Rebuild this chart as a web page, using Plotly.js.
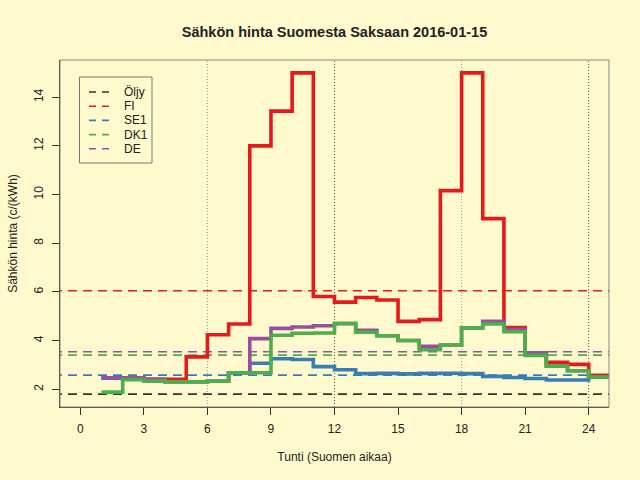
<!DOCTYPE html>
<html>
<head>
<meta charset="utf-8">
<script src="https://cdn.plot.ly/plotly-3.0.1.min.js"></script>
<style>html,body{margin:0;padding:0;background:#FFFACD;}#chart{width:640px;height:480px;}</style>
</head>
<body>
<div id="chart"></div>
<script>
// Hours 1..24 (Finnish time), price c/kWh
const hours = [1,2,3,4,5,6,7,8,9,10,11,12,13,14,15,16,17,18,19,20,21,22,23,24];
const fi  = [2.46,2.46,2.41,2.41,3.33,4.24,4.68,12.0,13.43,15.0,5.81,5.58,5.77,5.67,4.79,4.86,10.16,15.0,9.01,4.54,3.50,3.11,3.02,2.57];
const se1 = [2.46,2.40,2.34,2.31,2.31,2.33,2.68,3.07,3.25,3.22,2.93,2.80,2.64,2.65,2.63,2.65,2.66,2.64,2.53,2.48,2.44,2.38,2.38,2.50];
const de  = [2.46,2.46,2.41,2.31,2.31,2.33,2.68,4.08,4.50,4.56,4.61,4.69,4.42,4.20,4.00,3.76,3.82,4.52,4.79,4.45,3.50,2.95,2.76,2.50];
const dk1 = [1.88,2.40,2.34,2.31,2.31,2.33,2.68,2.68,4.22,4.30,4.31,4.71,4.34,4.20,4.00,3.62,3.82,4.52,4.68,4.36,3.39,2.95,2.76,2.50];
// Reference (average) levels
const refNames  = ["Öljy","FI","SE1","DK1","DE"];
const refValues = [1.80, 6.05, 2.58, 3.40, 3.54];
const refColors = ["#333333","#E41A1C","#377EB8","#4DAF4A","#984EA3"];
const xTicks = [0,3,6,9,12,15,18,21,24];
const yTicks = [2,4,6,8,10,12,14];
const vLines = [6,12,18,24];

// plot area in pixels (for legend placement)
const PX0 = 60, PW = 549, PY1 = 407, PH = 347;
const px2x = p => (p - PX0) / PW;
const px2y = p => (PY1 - p) / PH;

const traces = [];
refNames.forEach((n,i)=>{
  traces.push({x:[-2,27], y:[refValues[i],refValues[i]], mode:'lines', name:n,
    line:{color:refColors[i], width:1.6, dash:'9px,6px'}, hoverinfo:'skip', showlegend:false});
});
function stepTrace(vals,color){
  return {x: hours.concat([hours[hours.length-1]+1]), y: vals.concat([vals[vals.length-1]]),
    mode:'lines', line:{shape:'hv', color:color, width:3.6}, showlegend:false, hoverinfo:'skip'};
}
traces.push(stepTrace(fi,"#E41A1C"));
traces.push(stepTrace(se1,"#377EB8"));
traces.push(stepTrace(de,"#984EA3"));
traces.push(stepTrace(dk1,"#4DAF4A"));

const shapes = vLines.map(v=>({type:'line', xref:'x', yref:'paper', x0:v, x1:v, y0:0, y1:1,
  layer:'below', line:{color:(v%12===0)?'#555555':'#999999', width:1, dash:'1px,2px'}}));
shapes.push({type:'rect', xref:'paper', yref:'paper', x0:0, x1:1, y0:0, y1:1,
  line:{color:'#8a8580', width:1}});

// custom legend (box, dashed keys, labels)
const annotations = [];
shapes.push({type:'rect', xref:'paper', yref:'paper', x0:px2x(79.5), x1:px2x(152), y0:px2y(163), y1:px2y(77),
  line:{color:'#777777', width:1}});
const legY0 = 92, legDY = 14.2;
refNames.forEach((n,i)=>{
  const yy = px2y(legY0 + i*legDY);
  shapes.push({type:'line', xref:'paper', yref:'paper', x0:px2x(89), x1:px2x(109), y0:yy, y1:yy,
    line:{color:refColors[i], width:1.6, dash:'7px,6px'}});
  annotations.push({xref:'paper', yref:'paper', x:px2x(122), y:yy, xanchor:'left', yanchor:'middle',
    text:n, showarrow:false, font:{size:12, color:'#222222'}});
});

const font = {family:'"Liberation Sans", Arial, sans-serif', size:12, color:'#222222'};
const layout = {
  width:640, height:480,
  paper_bgcolor:'#FFFACD', plot_bgcolor:'#FFFACD',
  margin:{l:60, r:31, t:60, b:73},
  font: font,
  title:{text:'Sähkön hinta Suomesta Saksaan 2016-01-15', x:0.5, xref:'paper', y:1-32/480, yanchor:'middle',
    font:{family:font.family, size:14.5, color:'#222222', weight:'bold'}},
  xaxis:{range:[-0.96,24.96], tickvals:xTicks, ticktext:xTicks.map(String), ticks:'outside', ticklen:7,
    tickcolor:'#333', showline:true, linecolor:'#333', showgrid:false, zeroline:false,
    ticklabelstandoff:4, tickfont:{size:12},
    title:{text:'Tunti (Suomen aikaa)', standoff:17, font:{size:12}}},
  yaxis:{range:[1.27,15.53], tickvals:yTicks, ticktext:yTicks.map(String), ticks:'outside', ticklen:7,
    tickcolor:'#333', showline:true, linecolor:'#333', showgrid:false, zeroline:false,
    tickangle:-90, ticklabelstandoff:4, tickfont:{size:12},
    title:{text:'Sähkön hinta (c/(kWh)', standoff:12, font:{size:12}}},
  shapes: shapes,
  annotations: annotations,
  showlegend:false
};
Plotly.newPlot('chart', traces, layout, {staticPlot:true});
</script>
</body>
</html>
